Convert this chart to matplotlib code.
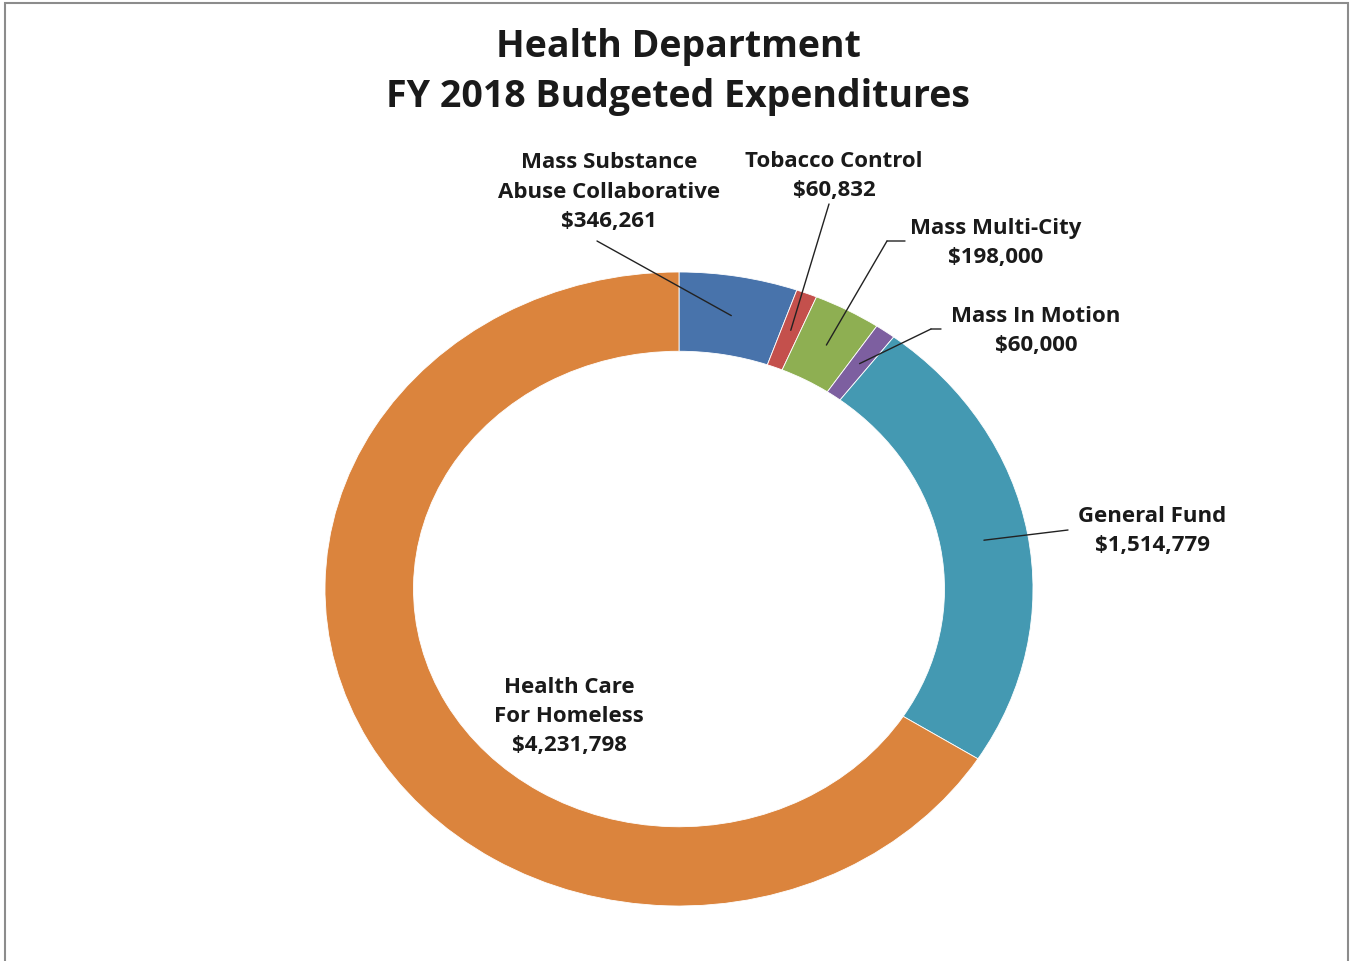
import numpy as np
import matplotlib
matplotlib.use('Agg')
import matplotlib.pyplot as plt
from matplotlib.patches import Rectangle

# Budget data
categories = ['Mass Substance\nAbuse Collaborative', 'Tobacco Control', 'Mass Multi-City',
              'Mass In Motion', 'General Fund', 'Health Care\nFor Homeless']
amounts = [346261, 60832, 198000, 60000, 1514779, 4231798]
colors = ['#4873AB', '#C4504C', '#8EAF52', '#7D5FA0', '#4499B2', '#DB843D']

W, H = 1350, 962
CX, CY = 679, 590        # donut centre, pixels from top-left
RX, RY = 354, 317        # outer radius in pixels (chart is slightly stretched)

# label centres (pixels) and leader line path from label towards wedge
label_pos = [(609, 192), (834, 176), (996, 243), (1036, 331), (1152, 531), (569, 717)]
leader_start = [(597, 242), (829, 205), (905, 242), (941, 330), (1068, 531), None]
leader_elbow = [None, None, (887, 242), (931, 330), None, None]


def fig_frac(p):
    return (p[0] / W, 1 - p[1] / H)


fig = plt.figure(figsize=(W / 100, H / 100), dpi=100)
ax = fig.add_axes([0, 0, 1, 1])

wedges, _ = ax.pie(amounts, colors=colors, startangle=90, counterclock=False, radius=1,
                   wedgeprops=dict(width=0.25, edgecolor='white', linewidth=0.6))
ax.set_aspect('auto')
ax.set_xlim(-CX / RX, (W - CX) / RX)
ax.set_ylim(-(H - CY) / RY, CY / RY)
ax.axis('off')

font = 'Open Sans'
txt_color = '#1a1a1a'

total = sum(amounts)
cum = 0
for i, (cat, val) in enumerate(zip(categories, amounts)):
    mid = 90 - (cum + val / 2) / total * 360
    cum += val
    anchor = (0.875 * np.cos(np.radians(mid)), 0.875 * np.sin(np.radians(mid)))

    fig.text(*fig_frac(label_pos[i]), f'{cat}\n${val:,}', ha='center', va='center',
             fontsize=16, fontweight='bold', family=font, color=txt_color, linespacing=1.5)

    if leader_start[i] is None:
        continue
    line_kw = dict(arrowstyle='-', color='#222222', lw=1.0, shrinkA=0, shrinkB=0)
    if leader_elbow[i] is not None:
        ax.annotate('', xy=fig_frac(leader_elbow[i]), xycoords='figure fraction',
                    xytext=fig_frac(leader_start[i]), textcoords='figure fraction',
                    arrowprops=line_kw, annotation_clip=False)
        start = leader_elbow[i]
    else:
        start = leader_start[i]
    ax.annotate('', xy=anchor, xycoords='data',
                xytext=fig_frac(start), textcoords='figure fraction',
                arrowprops=line_kw, annotation_clip=False)

fig.text(0.5025, 1 - 72 / H, 'Health Department\nFY 2018 Budgeted Expenditures',
         ha='center', va='center', fontsize=27, fontweight='bold', family=font,
         color=txt_color, linespacing=1.38)

# chart frame
fig.patches.append(Rectangle((5 / W, -0.05), 1343 / W, 1 - 4 / H + 0.05,
                             transform=fig.transFigure, fill=False,
                             edgecolor='#8c8c8c', linewidth=1.5))

fig.savefig('out.png', dpi=100, facecolor='white')
